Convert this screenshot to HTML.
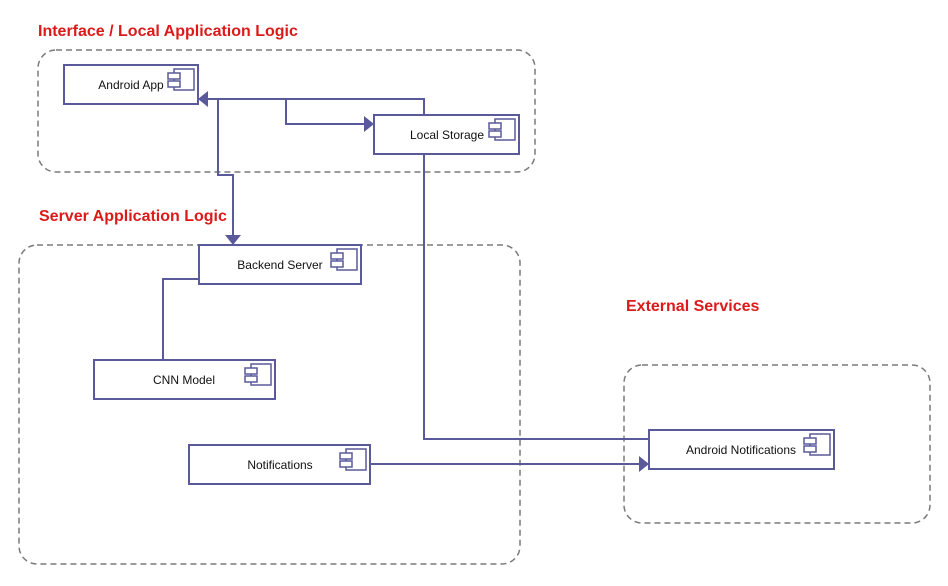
<!DOCTYPE html>
<html><head><meta charset="utf-8"><style>
html,body{margin:0;padding:0;background:#fff;}
svg{display:block;font-family:"Liberation Sans",Arial,sans-serif;}
</style></head><body>
<svg width="948" height="586" viewBox="0 0 948 586" xmlns="http://www.w3.org/2000/svg">
<defs>
<g id="ic" fill="#fff" stroke="#5a5a9a" stroke-width="1.5">
<rect x="0" y="0" width="20" height="21"/>
<rect x="-6" y="4" width="12" height="6"/>
<rect x="-6" y="12" width="12" height="6"/>
</g>
</defs>
<g fill="none" stroke="#7a7a7a" stroke-width="1.5" stroke-dasharray="6,4">
<rect x="38" y="50" width="497" height="122" rx="18"/>
<rect x="19" y="245" width="501" height="319" rx="18"/>
<rect x="624" y="365" width="306" height="158" rx="18"/>
</g>
<g font-weight="bold" font-size="16" fill="#dd1a1a">
<text x="38" y="36">Interface / Local Application Logic</text>
<text x="39" y="221">Server Application Logic</text>
<text x="626" y="311">External Services</text>
</g>
<g fill="none" stroke="#5a5a9a" stroke-width="2">
<polyline points="424,115 424,99 207,99"/>
<polyline points="286,99 286,124 364,124"/>
<polyline points="218,99 218,175 233,175 233,236"/>
<polyline points="424,154 424,439 649,439"/>
<polyline points="199,279 163,279 163,360"/>
<polyline points="370,464 640,464"/>
</g>
<g fill="#5a5a9a">
<polygon points="198,99 208,91 208,107"/>
<polygon points="374,124 364,116 364,132"/>
<polygon points="233,245 225,235 241,235"/>
<polygon points="649,464 639,456 639,472"/>
</g>
<g fill="#fff" stroke="#5a5a9a" stroke-width="2">
<rect x="64" y="65" width="134" height="39"/>
<rect x="374" y="115" width="145" height="39"/>
<rect x="199" y="245" width="162" height="39"/>
<rect x="94" y="360" width="181" height="39"/>
<rect x="189" y="445" width="181" height="39"/>
<rect x="649" y="430" width="185" height="39"/>
</g>
<use href="#ic" x="174" y="69"/>
<use href="#ic" x="495" y="119"/>
<use href="#ic" x="337" y="249"/>
<use href="#ic" x="251" y="364"/>
<use href="#ic" x="346" y="449"/>
<use href="#ic" x="810" y="434"/>
<g font-size="12" fill="#111" text-anchor="middle">
<text x="131" y="89">Android App</text>
<text x="447" y="139">Local Storage</text>
<text x="280" y="269">Backend Server</text>
<text x="184" y="384">CNN Model</text>
<text x="280" y="469">Notifications</text>
<text x="741" y="454">Android Notifications</text>
</g>
</svg>
</body></html>
